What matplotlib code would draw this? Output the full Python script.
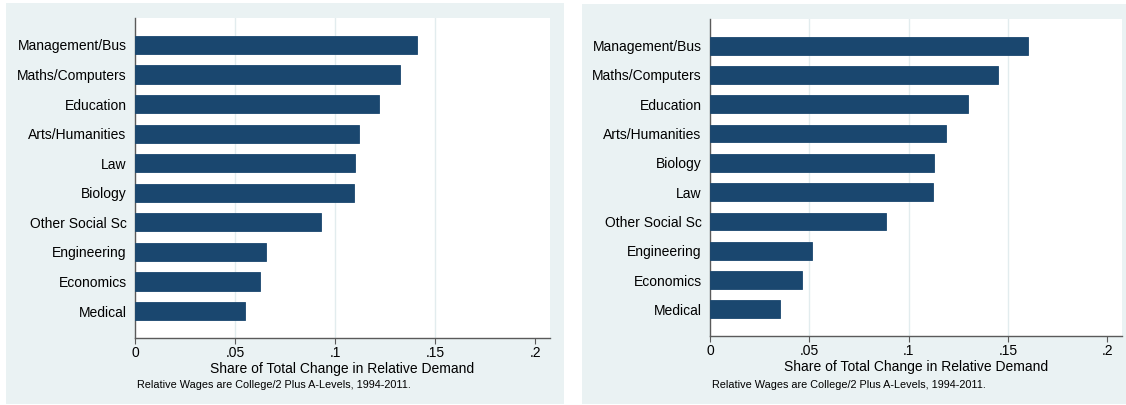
import matplotlib.pyplot as plt
from matplotlib.patches import Rectangle

plt.rcParams['font.family'] = ['Liberation Sans', 'DejaVu Sans']

# Data (top to bottom as shown in each panel)
left_fields = ['Management/Bus', 'Maths/Computers', 'Education', 'Arts/Humanities', 'Law',
               'Biology', 'Other Social Sc', 'Engineering', 'Economics', 'Medical']
left_values = [0.1407, 0.1323, 0.1219, 0.1117, 0.1099, 0.1093, 0.0929, 0.0656, 0.0625, 0.0547]

right_fields = ['Management/Bus', 'Maths/Computers', 'Education', 'Arts/Humanities', 'Biology',
                'Law', 'Other Social Sc', 'Engineering', 'Economics', 'Medical']
right_values = [0.1600, 0.1451, 0.1298, 0.1188, 0.1125, 0.1123, 0.0888, 0.0514, 0.0464, 0.0350]

xticks = [0, 0.05, 0.1, 0.15, 0.2]
xtick_labels = ['0', '.05', '.1', '.15', '.2']
xlabel = 'Share of Total Change in Relative Demand'
note = 'Relative Wages are College/2 Plus A-Levels, 1994-2011.'

W, H = 1126, 405
bg = '#EAF2F3'
navy = '#1A476F'
axis_col = '#5a5a5a'

fig = plt.figure(figsize=(W / 100, H / 100), dpi=100)
fig.patch.set_facecolor('white')


def px_rect(x0, y0, x1, y1):
    # pixel box (top-left origin) -> figure fraction [l, b, w, h]
    return [x0 / W, (H - y1) / H, (x1 - x0) / W, (y1 - y0) / H]


def panel(bg_box, ax_box, fields, values):
    l, b, w, h = px_rect(*bg_box)
    fig.patches.append(Rectangle((l, b), w, h, transform=fig.transFigure,
                                 facecolor=bg, edgecolor='none', zorder=-10))
    ax = fig.add_axes(px_rect(*ax_box))
    ax.set_zorder(1)
    ax.set_facecolor('white')
    n = len(fields)
    pos = list(range(n - 1, -1, -1))
    ax.barh(pos, values, height=0.61, color=navy, edgecolor=navy, linewidth=0.6, zorder=3)
    ax.set_yticks(pos)
    ax.set_yticklabels(fields, fontsize=10)
    ax.tick_params(axis='y', length=0, pad=6)
    ax.set_ylim(-0.91, n - 1 + 0.91)
    ax.set_xlim(0, 0.2073)
    ax.set_xticks(xticks)
    ax.set_xticklabels(xtick_labels, fontsize=10)
    ax.tick_params(axis='x', length=4, width=0.8, color=axis_col, pad=2)
    for g in [0.05, 0.1, 0.15]:
        ax.axvline(g, color='#E2ECEE', linewidth=1.0, zorder=1)
    for s in ['top', 'right']:
        ax.spines[s].set_visible(False)
    for s in ['left', 'bottom']:
        ax.spines[s].set_color(axis_col)
        ax.spines[s].set_linewidth(1.0)
    ax.set_xlabel(xlabel, fontsize=10, labelpad=1)
    fig.text((ax_box[0] + 2) / W, 1 - 385 / H, note, fontsize=7.8, va='center', ha='left')
    return ax


panel((6, 3, 564, 404), (135, 18, 550, 338), left_fields, left_values)
panel((582, 4, 1126, 404), (710, 19, 1122, 336), right_fields, right_values)

fig.savefig('out.png', dpi=100, facecolor='white')
